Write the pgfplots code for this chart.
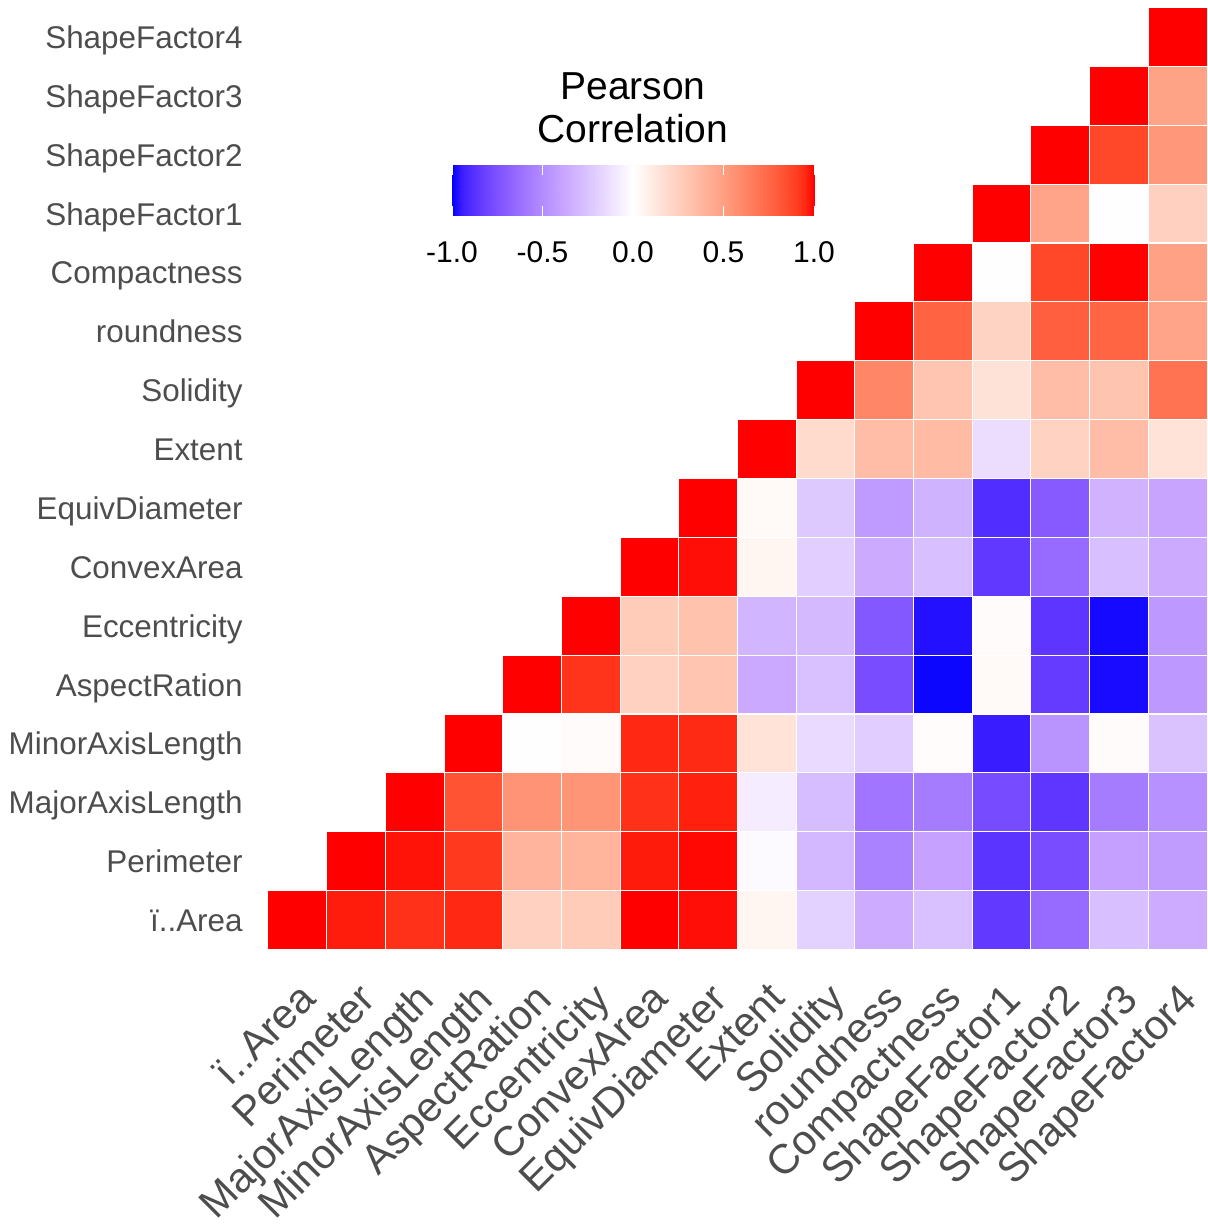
\documentclass[border=0pt]{standalone}
\usepackage{fontspec}
\setmainfont{Liberation Sans}
\usepackage{pgfplots}
\usepackage{pgfplotstable}
\pgfplotsset{compat=1.18}
\definecolor{labgray}{HTML}{4D4D4D}
\pgfplotsset{colormap={pearson}{
 rgb255(0cm)=(0,0,255) rgb255(1cm)=(56,27,255) rgb255(2cm)=(80,43,255) rgb255(4cm)=(113,69,255)
 rgb255(6cm)=(138,93,255) rgb255(8cm)=(160,116,255) rgb255(10cm)=(179,142,255) rgb255(12cm)=(199,162,255)
 rgb255(14cm)=(212,185,255) rgb255(16cm)=(227,208,255) rgb255(18cm)=(242,231,255) rgb255(20cm)=(255,255,255)
 rgb255(22cm)=(255,236,229) rgb255(24cm)=(255,217,203) rgb255(26cm)=(255,198,178) rgb255(28cm)=(255,178,153)
 rgb255(30cm)=(255,158,129) rgb255(32cm)=(255,137,105) rgb255(34cm)=(255,115,82) rgb255(36cm)=(255,91,58)
 rgb255(38cm)=(255,62,34) rgb255(39cm)=(255,42,19) rgb255(40cm)=(255,0,0)}}
\pgfplotstableread{
x y c
0 0 1
1 0 0.967
2 0 0.932
3 0 0.952
4 0 0.242
5 0 0.267
6 0 1.000
7 0 0.985
8 0 0.054
9 0 -0.197
10 0 -0.357
11 0 -0.268
12 0 -0.848
13 0 -0.639
14 0 -0.272
15 0 -0.356
1 1 1
2 1 0.977
3 1 0.913
4 1 0.385
5 1 0.392
6 1 0.968
7 1 0.991
8 1 -0.021
9 1 -0.304
10 1 -0.548
11 1 -0.407
12 1 -0.865
13 1 -0.768
14 1 -0.409
15 1 -0.429
2 2 1
3 2 0.826
4 2 0.551
5 2 0.541
6 2 0.933
7 2 0.962
8 2 -0.078
9 2 -0.284
10 2 -0.596
11 2 -0.568
12 2 -0.774
13 2 -0.859
14 2 -0.568
15 2 -0.483
3 3 1
4 3 -0.009
5 3 0.019
6 3 0.952
7 3 0.949
8 3 0.146
9 3 -0.156
10 3 -0.211
11 3 0.016
12 3 -0.947
13 3 -0.471
14 3 0.020
15 3 -0.263
4 4 1
5 4 0.924
6 4 0.243
7 4 0.304
8 4 -0.370
9 4 -0.268
10 4 -0.767
11 4 -0.988
12 4 0.025
13 4 -0.838
14 4 -0.979
15 4 -0.450
5 5 1
6 5 0.269
7 5 0.318
8 5 -0.319
9 5 -0.298
10 5 -0.722
11 5 -0.970
12 5 0.020
13 5 -0.860
14 5 -0.981
15 5 -0.449
6 6 1
7 6 0.985
8 6 0.052
9 6 -0.206
10 6 -0.362
11 6 -0.272
12 6 -0.849
13 6 -0.641
14 6 -0.275
15 6 -0.362
7 7 1
8 7 0.028
9 7 -0.232
10 7 -0.436
11 7 -0.328
12 7 -0.893
13 7 -0.713
14 7 -0.330
15 7 -0.393
8 8 1
9 8 0.191
10 8 0.345
11 8 0.355
12 8 -0.142
13 8 0.238
14 8 0.348
15 8 0.149
9 9 1
10 9 0.607
11 9 0.304
12 9 0.153
13 9 0.344
14 9 0.308
15 9 0.702
10 10 1
11 10 0.768
12 10 0.230
13 10 0.782
14 10 0.763
15 10 0.472
11 11 1
12 11 -0.009
13 11 0.868
14 11 0.999
15 11 0.484
12 12 1
13 12 0.470
14 12 -0.009
15 12 0.248
13 13 1
14 13 0.868
15 13 0.529
14 14 1
15 14 0.474
15 15 1
}\corr

\begin{document}
\begin{tikzpicture}
\begin{axis}[
  name=main,
  scale only axis, width=469.5pt, height=471pt,
  xmin=-0.5, xmax=15.5, ymin=-0.5, ymax=15.5,
  axis line style={draw=none},
  major tick length=0pt,
  xtick={0,...,15}, ytick={0,...,15},
  xticklabels={ï..Area,Perimeter,MajorAxisLength,MinorAxisLength,AspectRation,Eccentricity,ConvexArea,EquivDiameter,Extent,Solidity,roundness,Compactness,ShapeFactor1,ShapeFactor2,ShapeFactor3,ShapeFactor4},
  yticklabels={ï..Area,Perimeter,MajorAxisLength,MinorAxisLength,AspectRation,Eccentricity,ConvexArea,EquivDiameter,Extent,Solidity,roundness,Compactness,ShapeFactor1,ShapeFactor2,ShapeFactor3,ShapeFactor4},
  xticklabel style={font=\fontsize{20.8}{23}\selectfont, text=labgray, inner sep=0pt, yshift=-15.25pt, rotate=45, anchor=north east},
  yticklabel style={font=\fontsize{15.7}{18}\selectfont, text=labgray, inner sep=0pt, anchor=base east, xshift=-12.5pt, yshift=-5.75pt},
  point meta=explicit,
  point meta min=-1, point meta max=1,
  clip=false,
]
\addplot[scatter, only marks, mark=square*, mark size=14.7pt, line width=0.5pt,
  scatter/use mapped color={draw=white, fill=mapped color}]
  table[x=x, y=y, meta=c] {\corr};
\end{axis}
\begin{axis}[
  at={(main.north west)}, anchor=north west,
  xshift=92pt, yshift=-78.75pt,
  scale only axis, width=181pt, height=25.5pt,
  xmin=-1, xmax=1, ymin=0, ymax=1,
  axis on top,
  axis line style={draw=none},
  xtick={-1,-0.5,0,0.5,1},
  xticklabels={-1.0,-0.5,0.0,0.5,1.0},
  ytick=\empty,
  xtick pos=both, xticklabel pos=lower,
  tick align=inside, major tick length=5pt,
  tick style={white, line width=0.5pt},
  xticklabel style={font=\fontsize{15}{17}\selectfont, text=black, inner sep=0pt, anchor=north, yshift=-12.5pt},
  point meta min=-1, point meta max=1,
  clip=false,
]
\addplot[surf, shader=interp, point meta=x, mesh/cols=23] coordinates {
(-1,0) (-0.95,0) (-0.9,0) (-0.8,0) (-0.7,0) (-0.6,0) (-0.5,0) (-0.4,0) (-0.3,0) (-0.2,0) (-0.1,0) (0,0) (0.1,0) (0.2,0) (0.3,0) (0.4,0) (0.5,0) (0.6,0) (0.7,0) (0.8,0) (0.9,0) (0.95,0) (1,0)

(-1,1) (-0.95,1) (-0.9,1) (-0.8,1) (-0.7,1) (-0.6,1) (-0.5,1) (-0.4,1) (-0.3,1) (-0.2,1) (-0.1,1) (0,1) (0.1,1) (0.2,1) (0.3,1) (0.4,1) (0.5,1) (0.6,1) (0.7,1) (0.8,1) (0.9,1) (0.95,1) (1,1)
};
\node[anchor=south, inner sep=0pt, align=center, font=\fontsize{19.5}{21.5}\selectfont, yshift=11pt] at (rel axis cs:0.5,1) {Pearson\\Correlation};
\end{axis}
\pgfresetboundingbox
\path ([shift={(-134pt,-137.25pt)}]main.south west) rectangle ([shift={(469.5pt,474.75pt)}]main.south west);
\end{tikzpicture}
\end{document}
